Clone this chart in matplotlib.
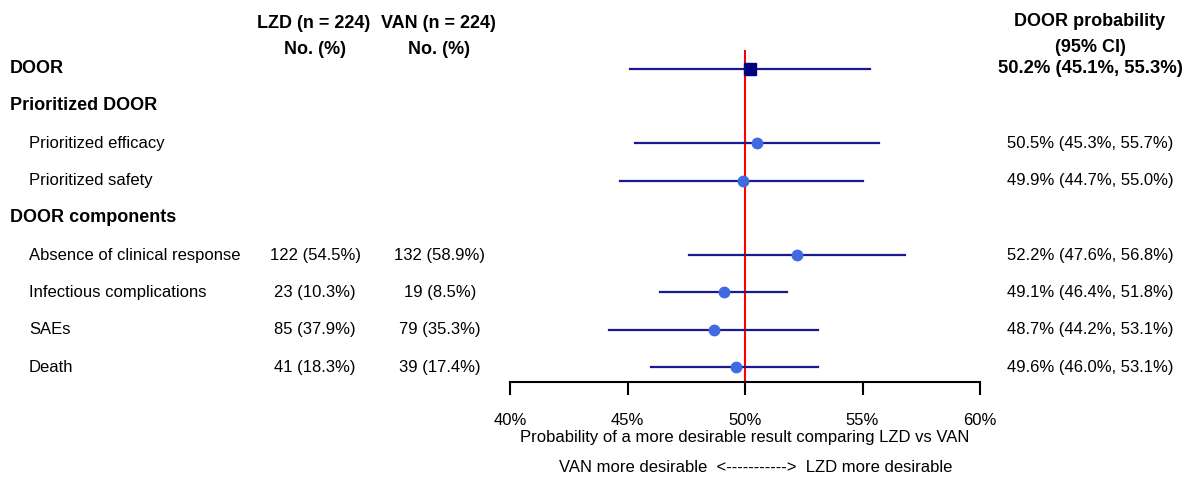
import numpy as np
import matplotlib.pyplot as plt
from matplotlib import transforms

plt.rcParams['font.family'] = ['Liberation Sans', 'DejaVu Sans']

# data
row_labels = ['DOOR', 'Prioritized DOOR', 'Prioritized efficacy', 'Prioritized safety',
              'DOOR components', 'Absence of clinical response', 'Infectious complications',
              'SAEs', 'Death']
row_bold = [True, True, False, False, True, False, False, False, False]
lzd_counts = ['', '', '', '', '', '122 (54.5%)', '23 (10.3%)', '85 (37.9%)', '41 (18.3%)']
van_counts = ['', '', '', '', '', '132 (58.9%)', '19 (8.5%)', '79 (35.3%)', '39 (17.4%)']
est = [50.2, None, 50.5, 49.9, None, 52.2, 49.1, 48.7, 49.6]
ci_low = [45.1, None, 45.3, 44.7, None, 47.6, 46.4, 44.2, 46.0]
ci_high = [55.3, None, 55.7, 55.0, None, 56.8, 51.8, 53.1, 53.1]
x_ticks = [40, 45, 50, 55, 60]

W, H = 1194, 479
fig = plt.figure(figsize=(W / 100, H / 100), dpi=100)
# forest axes: 40% at px 510, 60% at px 980; top px 50, axis line px 382
ax = fig.add_axes([510 / W, (H - 382) / H, 470 / W, (382 - 50) / H])
ax.set_xlim(40, 60)
ax.set_ylim(8.4, -0.5)

navy = '#1a1a8c'
blue = '#4169e1'
fs = 12
fsb = 13

ax.axvline(50, color='red', lw=1.5, zorder=1)
for i in range(len(row_labels)):
    if est[i] is None:
        continue
    ax.plot([ci_low[i], ci_high[i]], [i, i], color=navy, lw=1.6, zorder=2)
    if i == 0:
        ax.plot(est[i], i, marker='s', ms=8.5, color='#000080', zorder=3)
    else:
        ax.plot(est[i], i, marker='o', ms=7.5, color=blue, zorder=3)

for s in ['top', 'left', 'right']:
    ax.spines[s].set_visible(False)
ax.spines['bottom'].set_linewidth(1.5)
ax.set_yticks([])
ax.set_xticks(x_ticks)
ax.set_xticklabels([f'{t}%' for t in x_ticks], fontsize=fs)
ax.tick_params(axis='x', length=9, width=1.5, pad=13)
ax.set_xlabel('Probability of a more desirable result comparing LZD vs VAN',
              fontsize=fs, labelpad=2)

trans = transforms.blended_transform_factory(fig.transFigure, ax.transData)
for i, lab in enumerate(row_labels):
    if row_bold[i]:
        fig.text(10 / W, i, lab, transform=trans, fontsize=fsb, fontweight='bold',
                 va='center', ha='left')
    else:
        fig.text(29 / W, i, lab, transform=trans, fontsize=fs, va='center', ha='left')
    if lzd_counts[i]:
        fig.text(315 / W, i, lzd_counts[i], transform=trans, fontsize=fs,
                 va='center', ha='center')
        fig.text(440 / W, i, van_counts[i], transform=trans, fontsize=fs,
                 va='center', ha='center')
    if est[i] is not None:
        txt = f'{est[i]:.1f}% ({ci_low[i]:.1f}%, {ci_high[i]:.1f}%)'
        fig.text(1090 / W, i, txt, transform=trans, fontsize=13.3 if i == 0 else fs,
                 fontweight='bold' if i == 0 else 'normal', va='center', ha='center')

# column headers
for txt, x in [('LZD (n = 224)', 314), ('VAN (n = 224)', 438)]:
    fig.text(x / W, 1 - 24 / H, txt, fontsize=fsb, fontweight='bold', ha='center', va='center')
    fig.text(x / W + 1 / W, 1 - 50 / H, 'No. (%)', fontsize=fsb, fontweight='bold',
             ha='center', va='center')
fig.text(1090 / W, 1 - 21 / H, 'DOOR probability', fontsize=fsb, fontweight='bold',
         ha='center', va='center')
fig.text(1090 / W, 1 - 48 / H, '(95% CI)', fontsize=fsb, fontweight='bold',
         ha='center', va='center')

fig.text(756 / W, 1 - 467 / H, 'VAN more desirable  <----------->  LZD more desirable',
         fontsize=fs, ha='center', va='center')

fig.savefig('out.png', dpi=100)
